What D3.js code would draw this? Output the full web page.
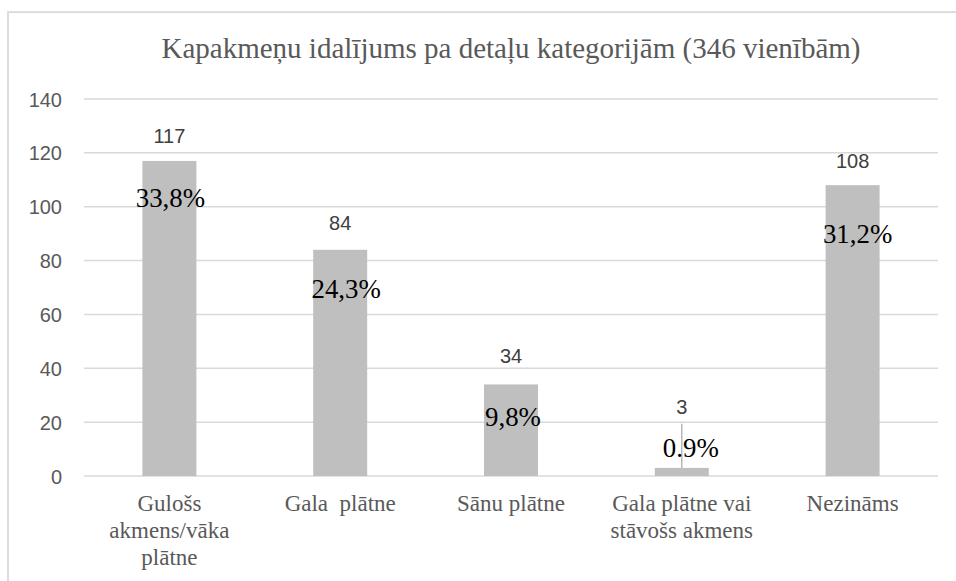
<!DOCTYPE html>
<html>
<head>
<meta charset="utf-8">
<script src="https://cdn.jsdelivr.net/npm/d3@7"></script>
<style>
  html, body { margin: 0; padding: 0; background: #fff; }
  svg { display: block; }
  .serif { font-family: "Liberation Serif", "Times New Roman", Times, "DejaVu Serif", serif; }
  .sans { font-family: "Liberation Sans", Arial, sans-serif; }
</style>
</head>
<body>
<svg id="chart" width="956" height="581"></svg>
<script>
// ---- data ----
const title = "Kapakmeņu idalījums pa detaļu kategorijām (346 vienībām)";
const categories = [
  ["Gulošs", "akmens/vāka", "plātne"],
  ["Gala  plātne"],
  ["Sānu plātne"],
  ["Gala plātne vai", "stāvošs akmens"],
  ["Nezināms"]
];
const values = [117, 84, 34, 3, 108];
const percentLabels = ["33,8%", "24,3%", "9,8%", "0.9%", "31,2%"];
const yTicks = [0, 20, 40, 60, 80, 100, 120, 140];

// ---- layout (manual label placement as in the original) ----
const pctOffset = [[1, 46], [6, 48.5], [2, 42], [9, -11], [5, 57.5]];
const valueLift = [18, 20, 21, 54, 17];

const svg = d3.select("#chart");
const W = 956, H = 581;
const plot = { left: 84, right: 938, top: 99, bottom: 476 };

// outer border
svg.append("path")
  .attr("d", `M8,${H + 2} V12 H${W + 2}`)
  .attr("fill", "none").attr("stroke", "#d9d9d9").attr("stroke-width", 1.75);

const x = d3.scaleBand()
  .domain(d3.range(categories.length))
  .range([plot.left, plot.right])
  .paddingInner(0.684).paddingOuter(0.342);

const y = d3.scaleLinear().domain([0, 140]).range([plot.bottom, plot.top]);

// gridlines
svg.append("g").selectAll("line").data(yTicks).join("line")
  .attr("x1", plot.left).attr("x2", plot.right)
  .attr("y1", d => y(d)).attr("y2", d => y(d))
  .attr("stroke", "#d9d9d9").attr("stroke-width", 1.5);

// y axis labels
const yAxis = d3.axisLeft(y).tickValues(yTicks).tickSize(0).tickPadding(0);
const gy = svg.append("g").attr("transform", `translate(62,0)`).call(yAxis);
gy.select(".domain").remove();
gy.attr("font-family", null).attr("font-size", null);
gy.selectAll("text")
  .attr("class", "sans")
  .attr("font-size", 20).attr("fill", "#595959").attr("dy", "0.35em");

// bars
svg.append("g").selectAll("rect").data(values).join("rect")
  .attr("x", (d, i) => x(i)).attr("width", x.bandwidth())
  .attr("y", d => y(d)).attr("height", d => y(0) - y(d))
  .attr("fill", "#bfbfbf");

// leader line for small bar label
const small = 3;
svg.append("line")
  .attr("x1", x(small) + x.bandwidth() / 2).attr("x2", x(small) + x.bandwidth() / 2)
  .attr("y1", y(20) + 1.5).attr("y2", y(values[small]))
  .attr("stroke", "#a6a6a6").attr("stroke-width", 1.2);

// value labels
svg.append("g").selectAll("text").data(values).join("text")
  .attr("class", "sans")
  .attr("x", (d, i) => x(i) + x.bandwidth() / 2)
  .attr("y", (d, i) => y(d) - valueLift[i])
  .attr("text-anchor", "middle")
  .attr("font-size", 20).attr("fill", "#404040")
  .text(d => d);

// percent labels
svg.append("g").selectAll("text").data(percentLabels).join("text")
  .attr("class", "serif")
  .attr("transform", (d, i) =>
    `translate(${x(i) + x.bandwidth() / 2 + pctOffset[i][0]},${y(values[i]) + pctOffset[i][1]}) scale(1.12,1.1)`)
  .attr("text-anchor", "middle")
  .attr("font-size", 24).attr("fill", "#000")
  .text(d => d);

// category labels
const gx = svg.append("g");
categories.forEach((lines, i) => {
  const t = gx.append("text")
    .attr("class", "serif")
    .attr("x", x(i) + x.bandwidth() / 2)
    .attr("y", 511)
    .attr("text-anchor", "middle")
    .attr("font-size", 23).attr("fill", "#595959")
    .style("white-space", "pre");
  lines.forEach((ln, j) => {
    t.append("tspan").attr("x", x(i) + x.bandwidth() / 2).attr("dy", j === 0 ? 0 : 27).text(ln);
  });
});

// title
svg.append("text")
  .attr("class", "serif")
  .attr("x", (plot.left + plot.right) / 2).attr("y", 58)
  .attr("text-anchor", "middle")
  .attr("font-size", 29).attr("fill", "#595959")
  .text(title);
</script>
</body>
</html>
